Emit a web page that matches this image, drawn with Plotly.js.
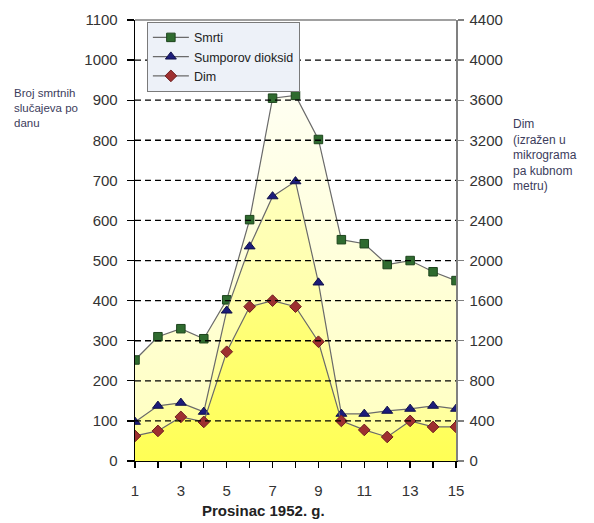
<!DOCTYPE html>
<html>
<head>
<meta charset="utf-8">
<script src="https://cdn.plot.ly/plotly-3.0.1.min.js"></script>
<style>html,body{margin:0;padding:0;background:#fff;}#chart{width:594px;height:523px;}</style>
</head>
<body>
<div id="chart"></div>
<script>
// ---- data ----
var days = [1,2,3,4,5,6,7,8,9,10,11,12,13,14,15];
var deaths = [252,310,330,305,402,602,905,912,802,552,542,490,500,472,450];
var sulphurDioxide = [390,550,580,490,1500,2140,2640,2790,1780,470,470,500,520,550,520];
var smoke = [250,300,440,390,1090,1540,1600,1540,1190,400,310,240,400,340,340];
var xTickLabels = ["1","","3","","5","","7","","9","","11","","13","","15"];
var leftTicks = [0,100,200,300,400,500,600,700,800,900,1000,1100];
var rightTicks = [0,400,800,1200,1600,2000,2400,2800,3200,3600,4000,4400];
var seriesNames = ["Smrti","Sumporov dioksid","Dim"];
var xTitle = "Prosinac 1952. g.";
var leftTitle = "Broj smrtnih<br>slučajeva po<br>danu";
var rightTitle = "Dim<br>(izražen u<br>mikrograma<br>pa kubnom<br>metru)";

var lineCol = "#6a6a6a";
function fillTrace(y, axis, stop, c0, c1) {
  return {x: days, y: y, type: "scatter", mode: "none", fill: "tozeroy", showlegend: false,
          fillgradient: {type: "vertical", start: 0, stop: stop, colorscale: [[0, c0], [1, c1]]},
          yaxis: axis, hoverinfo: "skip"};
}
var traces = [
  fillTrace(deaths, "y", 950, "#FFFFBE", "#FFFFF4"),
  {x: days, y: deaths, name: seriesNames[0], type: "scatter", mode: "lines+markers",
   line: {color: lineCol, width: 1.2},
   marker: {symbol: "square", size: 8.5, color: "#2F6B2F", line: {color: "#1D441D", width: 1}},
   yaxis: "y"},
  fillTrace(sulphurDioxide, "y2", 2800, "#FFFF98", "#FFFFBC"),
  fillTrace(smoke, "y2", 1600, "#FFFF55", "#FFFF7E"),
  {x: days, y: sulphurDioxide, name: seriesNames[1], type: "scatter", mode: "lines+markers",
   line: {color: lineCol, width: 1.2},
   marker: {symbol: "triangle-up", size: 9.5, color: "#1C1C7A", line: {color: "#10104A", width: 1}},
   yaxis: "y2"},
  {x: days, y: smoke, name: seriesNames[2], type: "scatter", mode: "lines+markers",
   line: {color: lineCol, width: 1.2},
   marker: {symbol: "diamond", size: 9, color: "#9E3030", line: {color: "#6E2020", width: 1}},
   yaxis: "y2"}
];

var shapes = leftTicks.filter(function(v){return v > 0 && v < leftTicks[leftTicks.length-1];}).map(function(v){
  return {type: "line", xref: "paper", x0: 0, x1: 1, yref: "y", y0: v, y1: v,
          line: {color: "#000", width: 1.3, dash: "6px,4px"}, layer: "above"};
});
shapes.push({type: "line", xref: "paper", yref: "paper", x0: 0, x1: 1, y0: 1, y1: 1,
             line: {color: "#808080", width: 1.5}, layer: "above"});

var tickFont = {family: "Liberation Sans, Arial, sans-serif", size: 15, color: "#333"};
var layout = {
  width: 594, height: 523,
  margin: {l: 135, r: 138, t: 20, b: 62},
  paper_bgcolor: "#fff", plot_bgcolor: "#fff",
  showlegend: true,
  legend: {x: 0.037, y: 0.996, xanchor: "left", yanchor: "top",
           bgcolor: "#EDF1F8", bordercolor: "#7a7a7a", borderwidth: 1,
           font: {family: "Liberation Sans, Arial, sans-serif", size: 12.5, color: "#222"},
           itemwidth: 36, tracegroupgap: 0},
  xaxis: {range: [1, 15], tickvals: days, ticktext: xTickLabels, ticks: "outside",
          ticklen: 6, tickcolor: "#000", tickwidth: 1.3, showline: true, linecolor: "#000", linewidth: 1.3,
          showgrid: false, zeroline: false, tickfont: tickFont, ticklabelstandoff: 10},
  yaxis: {range: [0, 1100], tickvals: leftTicks, ticks: "outside", ticklen: 7, tickcolor: "#000",
          tickwidth: 1.3, showline: true, linecolor: "#000", linewidth: 1.3, showgrid: false,
          zeroline: false, tickfont: tickFont, ticklabelstandoff: 6},
  yaxis2: {range: [0, 4400], tickvals: rightTicks, overlaying: "y", side: "right", ticks: "outside",
           ticklen: 6, tickcolor: "#808080", tickwidth: 1.3, showline: true, linecolor: "#808080",
           linewidth: 1.5, showgrid: false, zeroline: false, tickfont: tickFont, ticklabelstandoff: 3},
  shapes: shapes,
  annotations: [
    {text: "<b>" + xTitle + "</b>", xref: "paper", yref: "paper", x: 0.40, y: 0, yshift: -49,
     xanchor: "center", yanchor: "middle", showarrow: false,
     font: {family: "Liberation Sans, Arial, sans-serif", size: 15, color: "#222"}},
    {text: leftTitle, xref: "paper", yref: "paper", x: 0, xshift: -123, y: 1, yshift: -65,
     xanchor: "left", yanchor: "top", align: "left", showarrow: false,
     font: {family: "Liberation Sans, Arial, sans-serif", size: 11.5, color: "#3C3C5C"}},
    {text: rightTitle, xref: "paper", yref: "paper", x: 1, xshift: 55, y: 1, yshift: -95,
     xanchor: "left", yanchor: "top", align: "left", showarrow: false,
     font: {family: "Liberation Sans, Arial, sans-serif", size: 12, color: "#3C3C5C"}}
  ]
};
Plotly.newPlot("chart", traces, layout, {displayModeBar: false, staticPlot: true});
</script>
</body>
</html>
